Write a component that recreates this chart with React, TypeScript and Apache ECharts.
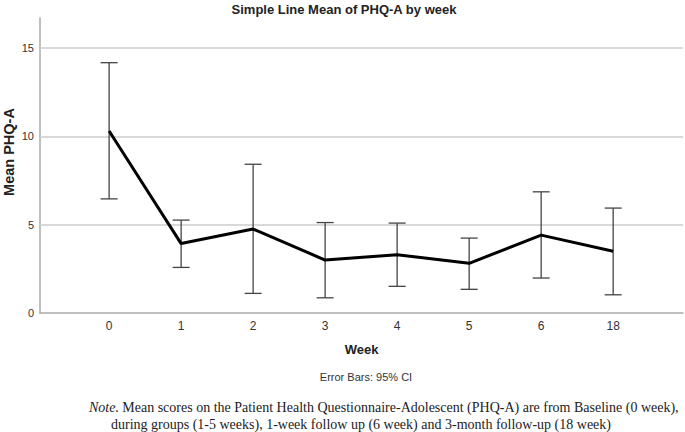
import React, { useEffect, useRef } from "react";
import * as echarts from "echarts";

const weeks = ["0", "1", "2", "3", "4", "5", "6", "18"];
const means = [10.3, 3.93, 4.75, 3.0, 3.3, 2.81, 4.41, 3.5];
const lower = [6.46, 2.58, 1.11, 0.86, 1.51, 1.34, 1.98, 1.03];
const upper = [14.17, 5.26, 8.42, 5.12, 5.09, 4.24, 6.86, 5.94];
const yTicks = [0, 5, 10, 15];
const gridValues = [5, 10, 15];

const SANS = "'Liberation Sans', Arial, sans-serif";
const SERIF = "'Liberation Serif', 'Times New Roman', serif";

export default function App() {
  const ref = useRef<HTMLDivElement>(null);
  useEffect(() => {
    document.body.style.margin = "0";
    const chart = echarts.init(ref.current!, null, { renderer: "svg" });
    const idx = weeks.map((_, i) => i);
    chart.setOption({
      animation: false,
      backgroundColor: "#ffffff",
      grid: { left: 40, right: 2, top: 18, bottom: 119, containLabel: false },
      xAxis: {
        type: "value",
        min: -0.96,
        max: 7.97,
        axisLine: { show: true, onZero: false, lineStyle: { color: "#aaaaaa", width: 1.5 } },
        axisTick: { show: false },
        splitLine: { show: false },
        axisLabel: {
          customValues: idx,
          formatter: (v: number) => weeks[Math.round(v)] ?? "",
          fontFamily: SANS,
          fontSize: 12,
          color: "#333",
          margin: 7,
        },
        name: "Week",
        nameLocation: "middle",
        nameGap: 30,
        nameTextStyle: { fontFamily: SANS, fontSize: 13, fontWeight: "bold", color: "#222" },
      },
      yAxis: {
        type: "value",
        min: 0,
        max: 16.7,
        axisLine: { show: true, onZero: false, lineStyle: { color: "#aaaaaa", width: 1.5 } },
        axisTick: { show: false },
        splitLine: { show: false },
        axisLabel: {
          customValues: yTicks,
          fontFamily: SANS,
          fontSize: 11,
          color: "#333",
          margin: 6,
        },
      },
      graphic: [
        {
          type: "text",
          x: 344,
          y: 9,
          style: {
            text: "Simple Line Mean of PHQ-A by week",
            fontFamily: SANS,
            fontSize: 13,
            fontWeight: "bold",
            fill: "#222",
            align: "center",
            verticalAlign: "middle",
          },
        },
        {
          type: "text",
          x: 9,
          y: 152,
          rotation: Math.PI / 2,
          style: {
            text: "Mean PHQ-A",
            fontFamily: SANS,
            fontSize: 14.5,
            fontWeight: "bold",
            fill: "#222",
            align: "center",
            verticalAlign: "middle",
          },
        },
        {
          type: "text",
          x: 366,
          y: 377,
          style: {
            text: "Error Bars: 95% CI",
            fontFamily: SANS,
            fontSize: 11,
            fill: "#333",
            align: "center",
            verticalAlign: "middle",
          },
        },
        {
          type: "text",
          x: 89,
          y: 407,
          style: {
            rich: {
              i: { fontFamily: SERIF, fontStyle: "italic", fontSize: 14, fill: "#222" },
              n: { fontFamily: SERIF, fontSize: 14, fill: "#222" },
            },
            text: "{i|Note.} {n|Mean scores on the Patient Health Questionnaire-Adolescent (PHQ-A) are from Baseline (0 week),}",
            verticalAlign: "middle",
          },
        },
        {
          type: "text",
          x: 111,
          y: 424,
          style: {
            text: "during groups (1-5 weeks), 1-week follow up (6 week) and 3-month follow-up (18 week)",
            fontFamily: SERIF,
            fontSize: 14,
            fill: "#222",
            verticalAlign: "middle",
          },
        },
      ],
      series: [
        {
          type: "line",
          data: means.map((m, i) => [i, m]),
          symbol: "none",
          lineStyle: { color: "#000", width: 3 },
          z: 3,
          markLine: {
            silent: true,
            symbol: "none",
            label: { show: false },
            lineStyle: { color: "#cccccc", width: 1.5, type: "solid" },
            data: gridValues.map((v) => ({ yAxis: v })),
            z: 1,
          },
        },
        {
          type: "custom",
          z: 2,
          data: means.map((_, i) => [i, lower[i], upper[i]]),
          renderItem: (params: any, api: any) => {
            const x = api.value(0);
            const lo = api.coord([x, api.value(1)]);
            const hi = api.coord([x, api.value(2)]);
            const hw = 8.5;
            const style = { stroke: "#444", lineWidth: 1.3 };
            return {
              type: "group",
              children: [
                { type: "line", shape: { x1: lo[0], y1: lo[1], x2: hi[0], y2: hi[1] }, style },
                { type: "line", shape: { x1: hi[0] - hw, y1: hi[1], x2: hi[0] + hw, y2: hi[1] }, style },
                { type: "line", shape: { x1: lo[0] - hw, y1: lo[1], x2: lo[0] + hw, y2: lo[1] }, style },
              ],
            };
          },
        },
      ],
    });
    return () => chart.dispose();
  }, []);
  return <div ref={ref} style={{ width: 685, height: 432 }} />;
}
